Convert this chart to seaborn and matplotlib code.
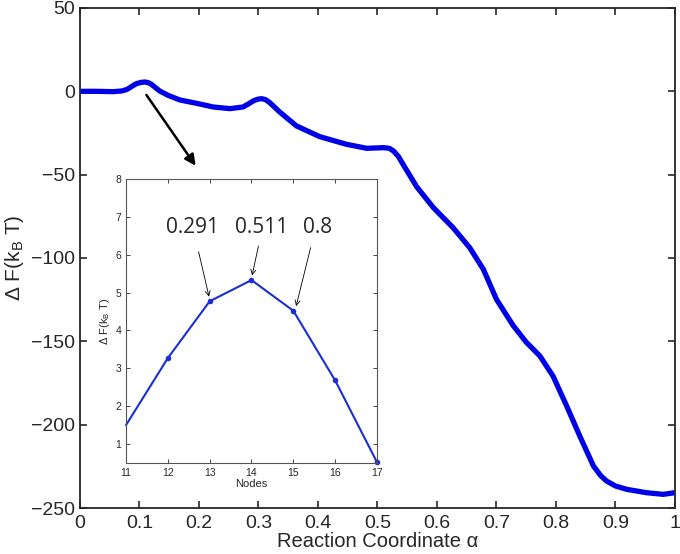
import numpy as np
import pandas as pd
import matplotlib
matplotlib.use('Agg')
import matplotlib.pyplot as plt
import seaborn as sns

# free energy profile
alpha = [0.0, 0.028, 0.056, 0.070, 0.078, 0.084, 0.090, 0.095, 0.102, 0.109,
         0.115, 0.120, 0.127, 0.134, 0.148, 0.168, 0.196, 0.224, 0.252, 0.274,
         0.283, 0.291, 0.298, 0.305, 0.312, 0.319, 0.336, 0.364, 0.403, 0.448,
         0.482, 0.510, 0.520, 0.527, 0.535, 0.543, 0.566, 0.594, 0.627, 0.655,
         0.678, 0.700, 0.728, 0.750, 0.773, 0.795, 0.818, 0.840, 0.863, 0.875,
         0.885, 0.900, 0.919, 0.952, 0.980, 1.0]
dF = [0.0, 0.0, -0.2, 0.2, 1.0, 2.2, 3.6, 4.6, 5.3, 5.6,
      5.2, 4.2, 2.2, 0.2, -2.4, -5.2, -7.2, -9.4, -10.4, -9.4,
      -7.6, -5.8, -4.8, -4.4, -5.0, -6.8, -12.5, -20.8, -27.2, -31.8,
      -34.2, -33.8, -34.2, -35.8, -39.0, -43.8, -57.3, -69.8, -81.8, -93.8,
      -106.8, -124.8, -140.5, -150.5, -158.8, -170.8, -188.8, -206.8, -224.8, -230.5,
      -233.8, -236.8, -238.8, -240.8, -241.8, -240.8]

# inset: nodes around the first barrier
nodes = [11, 12, 13, 14, 15, 16, 17]
node_dF = [1.5, 3.27, 4.77, 5.33, 4.52, 2.68, 0.52]
peak_labels = ['0.291', '0.511', '0.8']
peak_nodes = [13, 14, 15]

sns.set_style("ticks")
plt.rcParams['font.family'] = ['Liberation Sans', 'DejaVu Sans']
plt.rcParams['mathtext.default'] = 'regular'
plt.rcParams['xtick.direction'] = 'in'
plt.rcParams['ytick.direction'] = 'in'

df = pd.DataFrame({'alpha': alpha, 'dF': dF})
df_in = pd.DataFrame({'node': nodes, 'dF': node_dF})

fig = plt.figure(figsize=(6.8, 5.54), dpi=100)
ax = fig.add_axes([0.1176, 0.083, 0.875, 0.9026])
sns.lineplot(data=df, x='alpha', y='dF', ax=ax, color='#0000e6', lw=3.8,
             solid_joinstyle='round', solid_capstyle='round')
ax.set_xlim(0, 1)
ax.set_ylim(-250, 50)
ax.set_xticks(np.arange(0, 1.01, 0.1))
ax.set_xticklabels(['0', '0.1', '0.2', '0.3', '0.4', '0.5', '0.6', '0.7', '0.8', '0.9', '1'])
ax.set_yticks(np.arange(-250, 51, 50))
ax.tick_params(labelsize=14, top=True, right=True, length=5, width=1.2)
ax.tick_params(axis='x', pad=5)
for s in ax.spines.values():
    s.set_linewidth(1.3)
ax.set_xlabel('Reaction Coordinate α', fontsize=14.5, labelpad=0)
ax.set_ylabel('Δ F(k$_B$ T)', fontsize=15, labelpad=4)

ax.annotate('', xy=(0.197, -46), xytext=(0.109, -0.8),
            arrowprops=dict(arrowstyle='-|>', color='black', lw=1.8, mutation_scale=16))

# inset
axi = fig.add_axes([0.1853, 0.1643, 0.3691, 0.5126])
sns.lineplot(data=df_in, x='node', y='dF', ax=axi, color='#1a2ed6', lw=1.5,
             marker='o', markersize=4, markeredgewidth=0,
             markevery=list(range(1, len(nodes))), clip_on=False)
axi.set_xlim(11, 17)
axi.set_ylim(0.5, 8)
axi.set_xticks(range(11, 18))
axi.set_yticks(range(1, 9))
axi.tick_params(labelsize=7.5, top=True, right=True, length=3, width=0.6)
for s in axi.spines.values():
    s.set_linewidth(0.8)
    s.set_color('#555555')
axi.set_xlabel('Nodes', fontsize=8, labelpad=1)
axi.set_ylabel('Δ F(k$_B$ T)', fontsize=8, labelpad=2)

text_pos = [(12.58, 6.73), (14.25, 6.73), (15.57, 6.73)]
arrow_start = [(12.72, 6.15), (14.18, 6.3), (15.43, 6.26)]
for lab, nd, tp, st in zip(peak_labels, peak_nodes, text_pos, arrow_start):
    y = node_dF[nodes.index(nd)]
    axi.text(tp[0], tp[1], lab, ha='center', va='center', fontsize=15,
             family=['Open Sans', 'DejaVu Sans'])
    axi.annotate('', xy=(nd + (0.05 if nd == 15 else 0), y + 0.05), xytext=st,
                 arrowprops=dict(arrowstyle='->', color='black', lw=0.6, mutation_scale=9))

fig.savefig('out.png', dpi=100)
